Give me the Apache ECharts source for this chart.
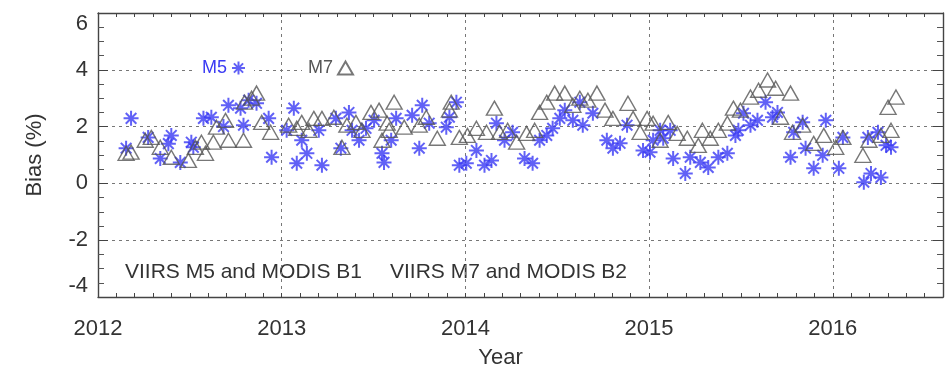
<!DOCTYPE html>
<html>
<head>
<meta charset="utf-8">
<script src="https://cdn.jsdelivr.net/npm/echarts@6/dist/echarts.min.js"></script>
<style>
  html, body { margin: 0; padding: 0; background: #fff; }
  #chart { width: 951px; height: 375px; }
</style>
</head>
<body>
<div id="chart"></div>
<script>
// Bias of VIIRS bands against MODIS, per overpass date (decimal year)
const m5Year = [
  2012.153, 2012.180, 2012.273, 2012.339, 2012.383, 2012.399, 2012.448, 2012.508, 2012.519, 2012.574,
  2012.617, 2012.683, 2012.710, 2012.776, 2012.792, 2012.820, 2012.863, 2012.929, 2012.945, 2013.027,
  2013.066, 2013.082, 2013.109, 2013.137, 2013.202, 2013.219, 2013.295, 2013.322, 2013.366, 2013.383,
  2013.421, 2013.459, 2013.503, 2013.546, 2013.557, 2013.596, 2013.623, 2013.710, 2013.749, 2013.765,
  2013.803, 2013.896, 2013.913, 2013.951, 2013.967, 2014.005, 2014.060, 2014.104, 2014.142, 2014.169,
  2014.213, 2014.257, 2014.322, 2014.366, 2014.404, 2014.443, 2014.475, 2014.514, 2014.541, 2014.585,
  2014.623, 2014.639, 2014.694, 2014.770, 2014.803, 2014.842, 2014.880, 2014.967, 2015.005, 2015.022,
  2015.060, 2015.077, 2015.115, 2015.131, 2015.197, 2015.224, 2015.279, 2015.322, 2015.377, 2015.426,
  2015.470, 2015.486, 2015.514, 2015.552, 2015.590, 2015.634, 2015.672, 2015.699, 2015.770, 2015.787,
  2015.836, 2015.852, 2015.896, 2015.945, 2015.962, 2016.033, 2016.055, 2016.169, 2016.191, 2016.208,
  2016.246, 2016.262, 2016.290, 2016.317
];
const m5Bias = [
  1.24, 2.29, 1.62, 0.88, 1.40, 1.69, 0.74, 1.45, 1.27, 2.29,
  2.33, 2.00, 2.75, 2.65, 2.05, 2.93, 2.82, 2.29, 0.92, 1.87,
  2.65, 0.71, 1.52, 1.06, 1.87, 0.64, 2.29, 1.24, 2.50, 1.87,
  1.52, 1.94, 2.22, 1.06, 0.74, 1.52, 2.29, 2.40, 1.24, 2.75,
  2.12, 1.98, 2.33, 2.86, 0.64, 0.71, 1.16, 0.64, 0.81, 2.12,
  1.52, 1.80, 0.88, 0.71, 1.52, 1.69, 1.94, 2.29, 2.58, 2.22,
  2.86, 2.05, 2.47, 1.52, 1.24, 1.41, 2.05, 1.16, 1.10, 1.52,
  1.87, 1.59, 1.87, 0.88, 0.35, 0.92, 0.74, 0.56, 0.92, 1.06,
  1.69, 1.87, 2.47, 2.05, 2.22, 2.86, 2.33, 2.50, 0.92, 1.80,
  2.15, 1.24, 0.53, 0.99, 2.22, 0.53, 1.62, 0.04, 1.62, 0.35,
  1.80, 0.21, 1.34, 1.27
];
const m7Year = [
  2012.153, 2012.180, 2012.257, 2012.290, 2012.339, 2012.399, 2012.492, 2012.530, 2012.563, 2012.585,
  2012.628, 2012.645, 2012.694, 2012.710, 2012.792, 2012.798, 2012.836, 2012.863, 2012.891, 2012.940,
  2013.038, 2013.082, 2013.109, 2013.148, 2013.175, 2013.219, 2013.284, 2013.328, 2013.355, 2013.404,
  2013.437, 2013.486, 2013.530, 2013.546, 2013.574, 2013.585, 2013.612, 2013.667, 2013.749, 2013.787,
  2013.847, 2013.913, 2013.923, 2013.967, 2014.011, 2014.060, 2014.115, 2014.158, 2014.186, 2014.230,
  2014.279, 2014.333, 2014.377, 2014.404, 2014.443, 2014.486, 2014.541, 2014.585, 2014.623, 2014.667,
  2014.716, 2014.760, 2014.803, 2014.885, 2014.913, 2014.951, 2014.989, 2015.022, 2015.060, 2015.104,
  2015.153, 2015.208, 2015.268, 2015.290, 2015.333, 2015.377, 2015.426, 2015.459, 2015.497, 2015.552,
  2015.596, 2015.645, 2015.689, 2015.716, 2015.770, 2015.781, 2015.836, 2015.896, 2015.951, 2016.016,
  2016.055, 2016.164, 2016.197, 2016.262, 2016.301, 2016.317, 2016.344
];
const m7Bias = [
  1.06, 1.10, 1.52, 1.62, 1.27, 0.92, 0.81, 1.27, 1.45, 1.06,
  1.45, 1.98, 2.22, 1.52, 1.52, 2.86, 3.00, 3.18, 2.15, 1.80,
  2.05, 1.94, 2.15, 1.87, 2.29, 2.29, 2.33, 1.27, 2.05, 2.15,
  1.87, 2.50, 2.58, 1.52, 2.12, 1.87, 2.86, 1.98, 2.05, 2.33,
  1.59, 2.58, 2.86, 1.62, 1.69, 1.94, 1.80, 2.65, 1.80, 1.87,
  1.45, 1.76, 1.87, 2.50, 2.86, 3.18, 3.18, 2.75, 3.00, 2.93,
  3.18, 2.58, 2.29, 2.82, 2.29, 1.80, 2.29, 2.12, 1.52, 2.15,
  1.76, 1.59, 1.34, 1.87, 1.59, 1.87, 2.12, 2.65, 2.58, 3.04,
  3.28, 3.64, 3.35, 2.33, 3.18, 1.80, 2.05, 1.41, 1.69, 1.27,
  1.62, 0.99, 1.52, 1.69, 2.68, 1.87, 3.04
];

const xMin = 2012, xMax = 2016.6;
const yMin = -4, yMax = 6;
const blue = '#3a3af4';
const gray = '#555555';
const ink = '#333333';
const font = 'Liberation Sans, Arial, Helvetica, sans-serif';

// eight-spoke asterisk drawn with strokes only
const asterisk = 'path://M5,0L5,10M0,5L10,5M1.46,1.46L8.54,8.54M1.46,8.54L8.54,1.46';

const zip = (xs, ys) => xs.map((x, i) => [x, ys[i]]);

const gridLine = { show: true, lineStyle: { color: '#777', width: 1, type: [3, 4] } };
const frame = { show: true, onZero: false, lineStyle: { color: '#444', width: 1.4 } };
const noLine = { show: false, onZero: false };
const fineTicks = { show: true, inside: true, length: 4, lineStyle: { color: '#444' } };

const chart = echarts.init(document.getElementById('chart'), null, { renderer: 'canvas' });

chart.setOption({
  animation: false,
  textStyle: { fontFamily: font },
  grid: { left: 98, right: 8, top: 13, bottom: 78 },
  legend: [
    {
      data: [{ name: 'M5', textStyle: { color: blue } }],
      left: 196, top: 57, align: 'right', selectedMode: false,
      itemWidth: 13, itemHeight: 13,
      backgroundColor: '#fff', padding: [2, 8, 2, 6],
      textStyle: { fontSize: 18, fontFamily: font }
    },
    {
      data: [{ name: 'M7', textStyle: { color: gray } }],
      left: 302, top: 57, align: 'right', selectedMode: false,
      itemWidth: 15, itemHeight: 13,
      backgroundColor: '#fff', padding: [2, 8, 2, 6],
      textStyle: { fontSize: 18, fontFamily: font }
    }
  ],
  xAxis: [
    {
      type: 'value', position: 'bottom', min: xMin, max: xMax, interval: 1,
      axisLine: frame,
      axisTick: { show: false },
      axisLabel: {
        fontSize: 22, color: ink, margin: 21, showMaxLabel: false,
        formatter: v => String(Math.round(v))
      },
      splitLine: gridLine,
      name: 'Year', nameLocation: 'middle', nameGap: 50,
      nameTextStyle: { fontSize: 22, color: ink, padding: [0, 40, 0, 0] }
    },
    {
      type: 'value', position: 'top', min: xMin, max: xMax, interval: 0.1,
      axisLine: frame,
      axisTick: fineTicks,
      axisLabel: { show: false },
      splitLine: { show: false }
    },
    {
      type: 'value', position: 'bottom', min: xMin, max: xMax, interval: 0.1,
      axisLine: noLine,
      axisTick: fineTicks,
      axisLabel: { show: false },
      splitLine: { show: false }
    }
  ],
  yAxis: [
    {
      type: 'value', position: 'left', min: yMin, max: yMax, interval: 2,
      axisLine: frame,
      axisTick: { show: true, inside: true, length: 10, lineStyle: { color: '#444' } },
      minorTick: { show: true, splitNumber: 4, length: 6, lineStyle: { color: '#555' } },
      axisLabel: {
        fontSize: 22, color: ink, margin: 10,
        verticalAlignMaxLabel: 'top', verticalAlignMinLabel: 'bottom'
      },
      splitLine: gridLine,
      name: 'Bias (%)', nameLocation: 'middle', nameGap: 52,
      nameTextStyle: { fontSize: 22, color: ink }
    },
    {
      type: 'value', position: 'right', min: yMin, max: yMax, interval: 2,
      axisLine: frame,
      axisTick: { show: true, inside: true, length: 10, lineStyle: { color: '#444' } },
      minorTick: { show: true, splitNumber: 4, length: 6, lineStyle: { color: '#555' } },
      axisLabel: { show: false },
      splitLine: { show: false }
    }
  ],
  graphic: [
    {
      type: 'text', left: 125, top: 262,
      style: { text: 'VIIRS M5 and MODIS B1', fontSize: 21, fontFamily: font, fill: ink }
    },
    {
      type: 'text', left: 390, top: 262,
      style: { text: 'VIIRS M7 and MODIS B2', fontSize: 21, fontFamily: font, fill: ink }
    }
  ],
  series: [
    {
      name: 'M5', type: 'scatter', xAxisIndex: 0, yAxisIndex: 0,
      symbol: asterisk, symbolSize: 15,
      itemStyle: { color: 'rgba(0,0,0,0)', borderColor: blue, borderWidth: 2 },
      data: zip(m5Year, m5Bias)
    },
    {
      name: 'M7', type: 'scatter', xAxisIndex: 0, yAxisIndex: 0,
      symbol: 'triangle', symbolSize: [16, 14],
      itemStyle: { color: 'rgba(0,0,0,0)', borderColor: gray, borderWidth: 1.4 },
      data: zip(m7Year, m7Bias)
    }
  ]
});
</script>
</body>
</html>
